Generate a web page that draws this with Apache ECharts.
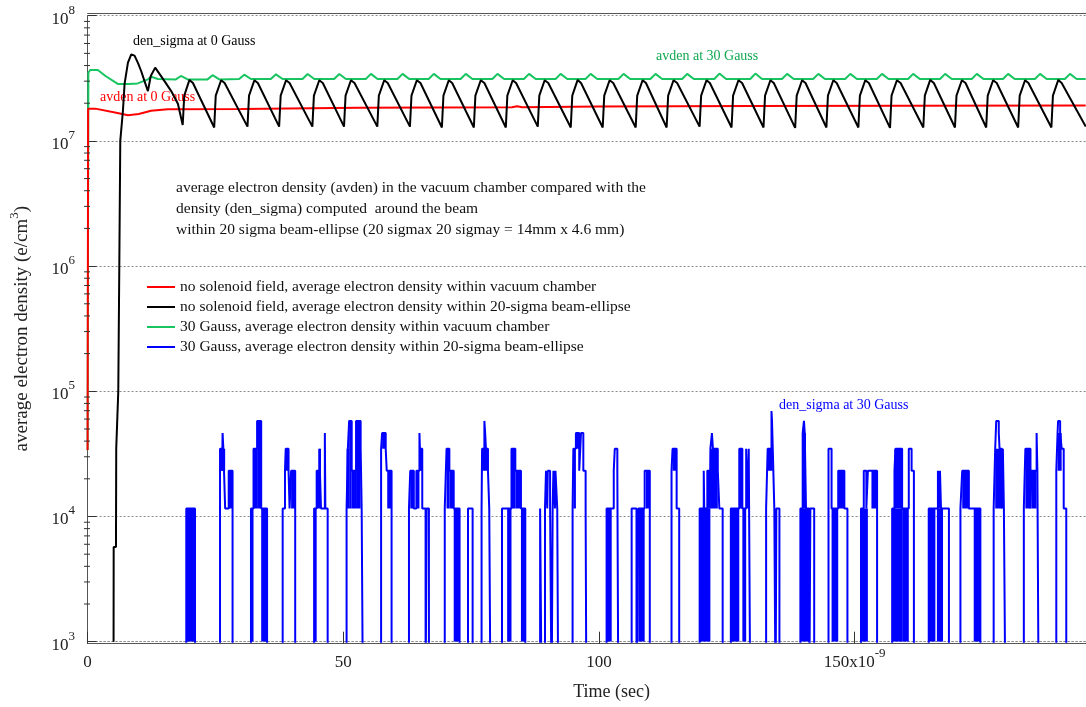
<!DOCTYPE html>
<html><head><meta charset="utf-8">
<script src="https://cdn.jsdelivr.net/npm/echarts@6/dist/echarts.min.js"></script>
<style>html,body{margin:0;padding:0;background:#fff}#c{width:1086px;height:707px}</style>
</head><body><div id="c"></div><script>
// ---------- data (time in ns, density in e/cm^3) ----------
const xTickValues = [0, 50, 100, 150];
const yMinorTicks = [2e3,3e3,4e3,5e3,6e3,7e3,8e3,9e3, 2e4,3e4,4e4,5e4,6e4,7e4,8e4,9e4,
  2e5,3e5,4e5,5e5,6e5,7e5,8e5,9e5, 2e6,3e6,4e6,5e6,6e6,7e6,8e6,9e6, 2e7,3e7,4e7,5e7,6e7,7e7,8e7,9e7];

const seriesNames = [
  'no solenoid field, average electron density within vacuum chamber',
  'no solenoid field, average electron density within 20-sigma beam-ellipse',
  '30 Gauss, average electron density within vacuum chamber',
  '30 Gauss, average electron density within 20-sigma beam-ellipse'
];

const redData = [[0,34000],[0.1,1.81e7],[1.5,1.81e7],[5.6,1.68e7],[7.9,1.6e7],[10.0,1.64e7],[12.4,1.74e7],
  [15.7,1.79e7],[30,1.8e7],[53,1.84e7],[83,1.86e7],[84,1.89e7],[85,1.86e7],[100,1.88e7],[130,1.9e7],[160,1.91e7],[195.2,1.92e7]];

const blackData = [[5.08,1000],[5.1,5700],[5.55,5700],[5.6,35000],[5.85,35000],[6.0,1.0e5],[6.2,1.0e6],[6.39,1.0e7],
  [6.91,1.74e7],[7.23,2.85e7],[7.89,4.22e7],[8.54,4.9e7],[9.18,4.8e7],[9.84,4.2e7],[10.49,3.6e7],[11.13,3.0e7],
  [11.8,2.5e7],[12.05,2.45e7],[12.35,3.3e7],[13.22,3.85e7],[15.04,3.0e7],[16.35,2.5e7],[17.66,1.98e7],[18.6,1.34e7],
  [18.9,2.3e7],[19.92,3.07e7],[20.6,2.9e7],
  [24.76,1.28e7],[25.06,2.3e7],[26.11,3.05e7],[26.8,2.9e7],
  [31.27,1.3e7],[31.57,2.3e7],[32.62,3.05e7],[33.3,2.9e7],
  [37.46,1.3e7],[37.76,2.3e7],[38.81,3.05e7],[39.5,2.9e7],
  [43.96,1.3e7],[44.26,2.3e7],[45.31,3.05e7],[46.0,2.9e7],
  [50.15,1.3e7],[50.45,2.3e7],[51.5,3.05e7],[52.2,2.9e7],
  [56.66,1.3e7],[56.96,2.3e7],[58.01,3.05e7],[58.7,2.9e7],
  [63.04,1.3e7],[63.34,2.3e7],[64.39,3.05e7],[65.1,2.9e7],
  [69.29,1.28e7],[69.59,2.3e7],[70.64,3.05e7],[71.3,2.9e7],
  [75.54,1.28e7],[75.84,2.3e7],[76.89,3.05e7],[77.6,2.9e7],
  [81.79,1.28e7],[82.09,2.3e7],[83.14,3.05e7],[83.8,2.9e7],
  [88.04,1.3e7],[88.34,2.3e7],[89.39,3.05e7],[90.1,2.9e7],
  [94.49,1.28e7],[94.79,2.3e7],[95.84,3.07e7],[96.5,2.9e7],
  [100.74,1.28e7],[101.04,2.3e7],[102.09,3.05e7],[102.8,2.9e7],
  [107.19,1.28e7],[107.49,2.3e7],[108.54,3.05e7],[109.2,2.9e7],
  [113.24,1.28e7],[113.54,2.3e7],[114.59,3.05e7],[115.3,2.9e7],
  [119.69,1.3e7],[119.99,2.3e7],[121.04,3.05e7],[121.7,2.9e7],
  [125.94,1.28e7],[126.24,2.3e7],[127.29,3.05e7],[128.0,2.9e7],
  [132.19,1.28e7],[132.49,2.3e7],[133.54,3.05e7],[134.2,2.9e7],
  [138.38,1.27e7],[138.68,2.3e7],[139.73,3.05e7],[140.4,2.9e7],
  [144.49,1.28e7],[144.79,2.3e7],[145.84,3.05e7],[146.5,2.9e7],
  [150.74,1.28e7],[151.04,2.3e7],[152.09,3.05e7],[152.8,2.9e7],
  [156.93,1.27e7],[157.23,2.3e7],[158.28,3.05e7],[159.0,2.9e7],
  [163.44,1.28e7],[163.74,2.3e7],[164.79,3.07e7],[165.5,2.9e7],
  [169.63,1.28e7],[169.93,2.3e7],[170.98,3.05e7],[171.7,2.9e7],
  [175.74,1.28e7],[176.04,2.3e7],[177.09,3.05e7],[177.8,2.9e7],
  [181.99,1.28e7],[182.29,2.3e7],[183.34,3.05e7],[184.0,2.9e7],
  [188.49,1.28e7],[188.79,2.3e7],[189.84,3.07e7],[190.5,2.9e7],
  [195.2,1.3e7]];

const greenData = [[0,34000],[0.15,3.5e7],[0.5,3.68e7],[2.0,3.68e7],[3.5,3.3e7],[5.9,2.85e7],[8.0,2.85e7],[9.8,2.88e7],
  [11.8,3.1e7],[12.44,3.25e7],[13.75,3.12e7],
  [17.26,3.1e7],[18.26,3.3e7],[19.56,3.1e7],
  [23.45,3.1e7],[24.45,3.35e7],[25.75,3.1e7],
  [29.64,3.12e7],[30.64,3.38e7],[31.94,3.12e7],
  [35.84,3.12e7],[36.84,3.4e7],[38.14,3.12e7],
  [42.03,3.12e7],[43.03,3.42e7],[44.33,3.12e7],
  [48.22,3.12e7],[49.22,3.42e7],[50.52,3.12e7],
  [54.41,3.12e7],[55.41,3.43e7],[56.71,3.12e7],
  [60.6,3.12e7],[61.6,3.43e7],[62.9,3.12e7],
  [66.71,3.12e7],[67.71,3.43e7],[69.01,3.12e7],
  [72.96,3.12e7],[73.96,3.43e7],[75.26,3.12e7],
  [79.16,3.12e7],[80.16,3.43e7],[81.46,3.12e7],
  [85.33,3.12e7],[86.33,3.43e7],[87.63,3.12e7],
  [91.52,3.12e7],[92.52,3.43e7],[93.82,3.12e7],
  [97.38,3.12e7],[98.38,3.43e7],[99.68,3.12e7],
  [103.82,3.12e7],[104.82,3.43e7],[106.12,3.12e7],
  [110.07,3.12e7],[111.07,3.43e7],[112.37,3.12e7],
  [116.27,3.12e7],[117.27,3.43e7],[118.57,3.12e7],
  [122.57,3.12e7],[123.57,3.45e7],[124.87,3.12e7],
  [129.6,3.12e7],[130.6,3.45e7],[131.9,3.12e7],
  [135.8,3.12e7],[136.8,3.43e7],[138.1,3.12e7],
  [141.91,3.12e7],[142.91,3.43e7],[144.21,3.12e7],
  [148.16,3.12e7],[149.16,3.43e7],[150.46,3.12e7],
  [154.35,3.12e7],[155.35,3.43e7],[156.65,3.12e7],
  [160.46,3.12e7],[161.46,3.43e7],[162.76,3.12e7],
  [166.71,3.12e7],[167.71,3.43e7],[169.01,3.12e7],
  [172.91,3.12e7],[173.91,3.43e7],[175.21,3.12e7],
  [179.02,3.12e7],[180.02,3.43e7],[181.32,3.12e7],
  [185.27,3.12e7],[186.27,3.43e7],[187.57,3.12e7],
  [191.13,3.12e7],[192.13,3.43e7],[193.43,3.12e7],
  [195.2,3.12e7]];

// blue: macro-particle count levels (level * blueUnit); level 0 = empty (below axis)
const blueUnit = 11600;
const blueSteps = [[0,0],
  [19.3,1],[21.0,0],
  [25.9,3],[26.3,2],[26.4,4],[26.55,3],[26.9,1],[27.6,2],[28.35,0],
  [31.95,1],[32.45,3],[33.15,5],[33.95,1],[35.1,0],
  [38.15,1],[38.6,2],[38.75,3],[39.3,2],[39.5,1],[39.8,2],[40.6,0],
  [44.3,1],[44.8,2],[45.3,3],[45.65,1],[46.4,4],[46.5,1],[46.95,0],
  [50.65,1],[50.9,3],[51.15,5],[51.65,2],[52.5,5],[53.4,3],[53.6,1],[53.85,0],
  [57.4,3],[57.6,4],[58.3,3],[58.5,2],[59.45,0],
  [62.85,1],[63.1,2],[63.8,1],[64.3,2],[64.9,4],[65.0,3],[65.45,1],[66.1,0],[66.3,1],[66.75,0],
  [69.85,1],[70.2,3],[70.75,2],[71.6,1],[72.75,0],
  [74.4,1],[75.3,0],
  [77.05,1],[77.15,3],[77.6,5],[77.75,4],[77.9,3],[78.3,2],[78.55,1],[78.8,0],
  [81.05,1],[82.9,3],[83.65,2],[84.75,1],[85.6,0],
  [88.5,1],[88.8,0],[89.45,1],[89.65,2],[89.9,1],[90.0,2],[90.45,1],[90.75,0],[90.95,1],[91.1,2],[91.4,1],[91.5,2],[91.85,1],[92.05,0],
  [94.85,1],[95.0,3],[95.5,4],[96.15,2],[96.5,4],[96.95,2],[97.4,1],[97.55,0],
  [101.5,1],[102.9,2],[103.1,3],[103.6,2],[103.8,0],
  [106.4,1],[107.35,0],[107.7,1],[108.95,2],[109.95,0],
  [114.2,2],[114.4,3],[115.2,1],[115.7,0],
  [119.7,1],[120.5,2],[120.6,1],[121.2,2],[121.7,1],[121.8,3],[122.1,4],[122.3,3],[123.25,2],[123.55,1],[124.2,0],
  [125.8,1],[127.45,3],[128.05,1],[128.8,3],[129.0,1],[129.3,3],[129.6,0],
  [132.7,1],[133.0,3],[133.75,6],[133.85,5],[134.0,3],[134.3,1],[134.55,0],[134.7,1],[135.3,0],
  [139.4,1],[139.85,4],[140.1,5],[140.25,4],[140.5,1],[141.15,0],[141.35,1],[142.1,0],
  [144.9,3],[145.5,1],[146.8,2],[148.0,1],[148.6,0],
  [151.25,1],[151.8,2],[152.3,1],[152.6,2],[154.4,0],
  [157.35,1],[157.8,2],[158.0,3],[159.3,1],[160.6,3],[161.15,2],[161.6,0],
  [164.5,1],[166.3,2],[166.5,1],[166.7,2],[166.9,1],[168.45,0],
  [170.7,1],[171.05,2],[172.35,1],[174.6,0],
  [177.2,1],[177.5,3],[177.7,5],[178.2,4],[178.35,3],[178.85,1],[179.0,3],[179.2,1],[179.5,0],
  [183.1,1],[183.4,3],[184.4,1],[184.6,2],[185.6,4],[185.75,2],[186.0,0],
  [189.45,2],[189.7,4],[189.8,5],[190.2,4],[190.5,3],[190.9,1],[191.4,0],
  [195.2,0]];
// densely oscillating stretches: [tStart, tEnd, lowLevel, highLevel]
const blueDense = [
  [19.3,21.0,0,1],
  [25.9,26.9,2,3],[27.6,28.35,1,2],
  [31.95,32.45,0,1],[32.45,33.15,1,3],[33.15,33.95,1,5],[33.95,35.1,0,1],
  [38.6,39.3,2,3],[39.8,40.6,1,2],
  [44.3,44.8,0,1],[44.8,45.65,1,2],[45.3,45.65,2,3],
  [50.65,51.15,1,3],[51.15,51.65,1,5],[51.65,52.5,1,2],[52.5,53.4,1,5],
  [57.6,58.3,3,4],[58.6,59.45,1,2],
  [63.1,63.8,1,2],[64.3,64.9,1,2],[65.0,65.45,2,3],
  [70.2,70.75,1,3],[70.75,71.6,1,2],[71.6,72.75,0,1],
  [77.15,78.3,2,3],
  [82.05,82.9,0,1],[82.9,83.65,1,3],[83.65,84.75,1,2],[84.75,85.6,0,1],
  [95.0,95.5,1,3],[95.5,96.15,3,4],
  [101.5,102.5,0,1],
  [107.7,108.95,0,1],[109.2,109.95,1,2],
  [114.4,115.2,2,3],
  [119.7,121.8,0,1],[121.2,121.7,1,2],[121.8,123.25,1,3],
  [125.8,127.45,0,1],[127.45,128.05,1,3],[128.05,128.8,0,1],
  [133.0,134.0,2,3],
  [139.4,140.5,0,1],[139.85,140.5,1,4],[140.5,141.15,0,1],
  [145.5,146.8,0,1],[146.8,148.0,1,2],
  [151.25,152.6,0,1],[153.3,154.4,1,2],
  [157.35,159.3,0,1],[157.8,159.3,1,3],[159.3,160.6,0,1],
  [164.5,165.8,0,1],[166.1,167.3,0,1],
  [171.05,172.35,1,2],[173.3,174.6,0,1],
  [177.5,178.85,1,3],
  [183.4,184.4,1,3],[184.6,185.6,1,2],
  [189.7,190.5,2,4]];

// ---------- chart ----------
const FONT = '"Liberation Serif", "Times New Roman", serif';
const GREEN = '#17c45f', RED = '#ff0000', BLACK = '#000000', BLUE = '#0000ff';
const Y_OFFSET = 3.6;

const blueLine = blueSteps.map(p => [p[0], p[1] === 0 ? 300 : p[1] * blueUnit]);
const blueRects = blueDense.map(r => [r[0], r[1], r[2] === 0 ? 1000 : r[2] * blueUnit, r[3] * blueUnit]);

const chart = echarts.init(document.getElementById('c'), null, {renderer: 'canvas'});
const richLbl = {
  b: {fontFamily: FONT, fontSize: 17, color: '#222', lineHeight: 24, verticalAlign: 'bottom'},
  s: {fontFamily: FONT, fontSize: 13, color: '#222', lineHeight: 14, verticalAlign: 'top'}
};

chart.setOption({
  animation: false,
  backgroundColor: '#ffffff',
  grid: {left: 86.3, top: 15.7, width: 999.4, bottom: 65.3, containLabel: false},
  xAxis: [{
    type: 'value', min: 0, max: 195.2, interval: 50, offset: 2,
    axisLine: {show: true, lineStyle: {color: '#555', width: 1}},
    axisTick: {show: true, inside: true, length: 12, customValues: xTickValues, lineStyle: {color: '#333'}},
    axisLabel: {customValues: xTickValues, margin: 3, rich: richLbl,
      formatter: v => v === 150 ? '{b|150x10}{s|-9}' : '{b|' + v + '}'},
    splitLine: {show: false},
    name: 'Time (sec)', nameLocation: 'middle', nameGap: 40,
    nameTextStyle: {fontFamily: FONT, fontSize: 18, color: '#222', padding: [0, 0, 0, 50]}
  }, {
    type: 'value', min: 0, max: 195.2, position: 'top', offset: 2.3,
    axisLine: {show: true, lineStyle: {color: '#555', width: 1}},
    axisTick: {show: false}, axisLabel: {show: false}, splitLine: {show: false}
  }],
  yAxis: {
    type: 'log', logBase: 10, min: 1e3, max: 1e8, offset: Y_OFFSET,
    axisLine: {show: true, lineStyle: {color: '#555', width: 1}},
    axisTick: {show: true, inside: true, length: 9, lineStyle: {color: '#333'}},
    axisLabel: {margin: 9, rich: richLbl,
      formatter: v => '{b|10}{s|' + Math.round(Math.log10(v)) + '}'},
    splitLine: {show: true, lineStyle: {color: '#8a8a8a', type: [2, 2], width: 1}},
    name: '{a|average electron density (e/cm}{s|3}{a|)}', nameLocation: 'middle', nameGap: 52,
    nameTextStyle: {rich: {
      a: {fontFamily: FONT, fontSize: 19, color: '#222', lineHeight: 24, verticalAlign: 'bottom'},
      s: {fontFamily: FONT, fontSize: 13, color: '#222', lineHeight: 13, verticalAlign: 'top'}
    }}
  },
  legend: {
    show: true, orient: 'vertical', left: 147, top: 277, padding: 0, icon: 'rect',
    itemWidth: 28, itemHeight: 2, itemGap: 0, selectedMode: false,
    textStyle: {fontFamily: FONT, fontSize: 15.5, color: '#111', lineHeight: 20},
    data: seriesNames
  },
  series: [
    {name: seriesNames[2], type: 'line', data: greenData, showSymbol: false, z: 2, color: GREEN,
     lineStyle: {color: GREEN, width: 2}},
    {name: seriesNames[0], type: 'line', data: redData, showSymbol: false, z: 3, color: RED,
     lineStyle: {color: RED, width: 2}},
    {name: seriesNames[1], type: 'line', data: blackData, showSymbol: false, z: 4, color: BLACK,
     lineStyle: {color: BLACK, width: 2}},
    {name: seriesNames[3], type: 'line', step: 'end', data: blueLine, showSymbol: false, z: 5, color: BLUE,
     lineStyle: {color: BLUE, width: 2}, clip: true},
    {name: 'blueDense', type: 'custom', data: blueRects, z: 5, silent: true, clip: true,
     encode: {x: [0, 1], y: [2, 3]},
     renderItem: (params, api) => {
       const p1 = api.coord([api.value(0), api.value(3)]);
       const p2 = api.coord([api.value(1), api.value(2)]);
       return {type: 'rect', shape: {x: p1[0], y: p1[1], width: p2[0] - p1[0], height: p2[1] - p1[1]},
               style: {fill: BLUE}};
     }},
    {name: 'minorTicks', type: 'custom', data: yMinorTicks.map(v => [0, v]), z: 6, silent: true,
     encode: {x: 0, y: 1},
     renderItem: (params, api) => {
       const p = api.coord([0, api.value(1)]);
       const x0 = params.coordSys.x - Y_OFFSET;
       return {type: 'line', shape: {x1: x0, y1: p[1], x2: x0 + 6, y2: p[1]},
               style: {stroke: '#333', lineWidth: 1}};
     }}
  ],
  graphic: [
    {type: 'text', x: 133, y: 41, style: {text: 'den_sigma at 0 Gauss', font: '14px ' + FONT, fill: '#000', verticalAlign: 'middle'}},
    {type: 'text', x: 100, y: 97.5, style: {text: 'avden at 0 Gauss', font: '14px ' + FONT, fill: RED, verticalAlign: 'middle'}},
    {type: 'text', x: 656, y: 56.5, style: {text: 'avden at 30 Gauss', font: '14px ' + FONT, fill: '#10a850', verticalAlign: 'middle'}},
    {type: 'text', x: 779, y: 405, style: {text: 'den_sigma at 30 Gauss', font: '14px ' + FONT, fill: BLUE, verticalAlign: 'middle'}},
    {type: 'text', x: 176, y: 188, style: {text: 'average electron density (avden) in the vacuum chamber compared with the', font: '15.5px ' + FONT, fill: '#111', verticalAlign: 'middle'}},
    {type: 'text', x: 176, y: 208.5, style: {text: 'density (den_sigma) computed  around the beam', font: '15.5px ' + FONT, fill: '#111', verticalAlign: 'middle'}},
    {type: 'text', x: 176, y: 230, style: {text: 'within 20 sigma beam-ellipse (20 sigmax 20 sigmay = 14mm x 4.6 mm)', font: '15.5px ' + FONT, fill: '#111', verticalAlign: 'middle'}}
  ]
});
</script></body></html>
